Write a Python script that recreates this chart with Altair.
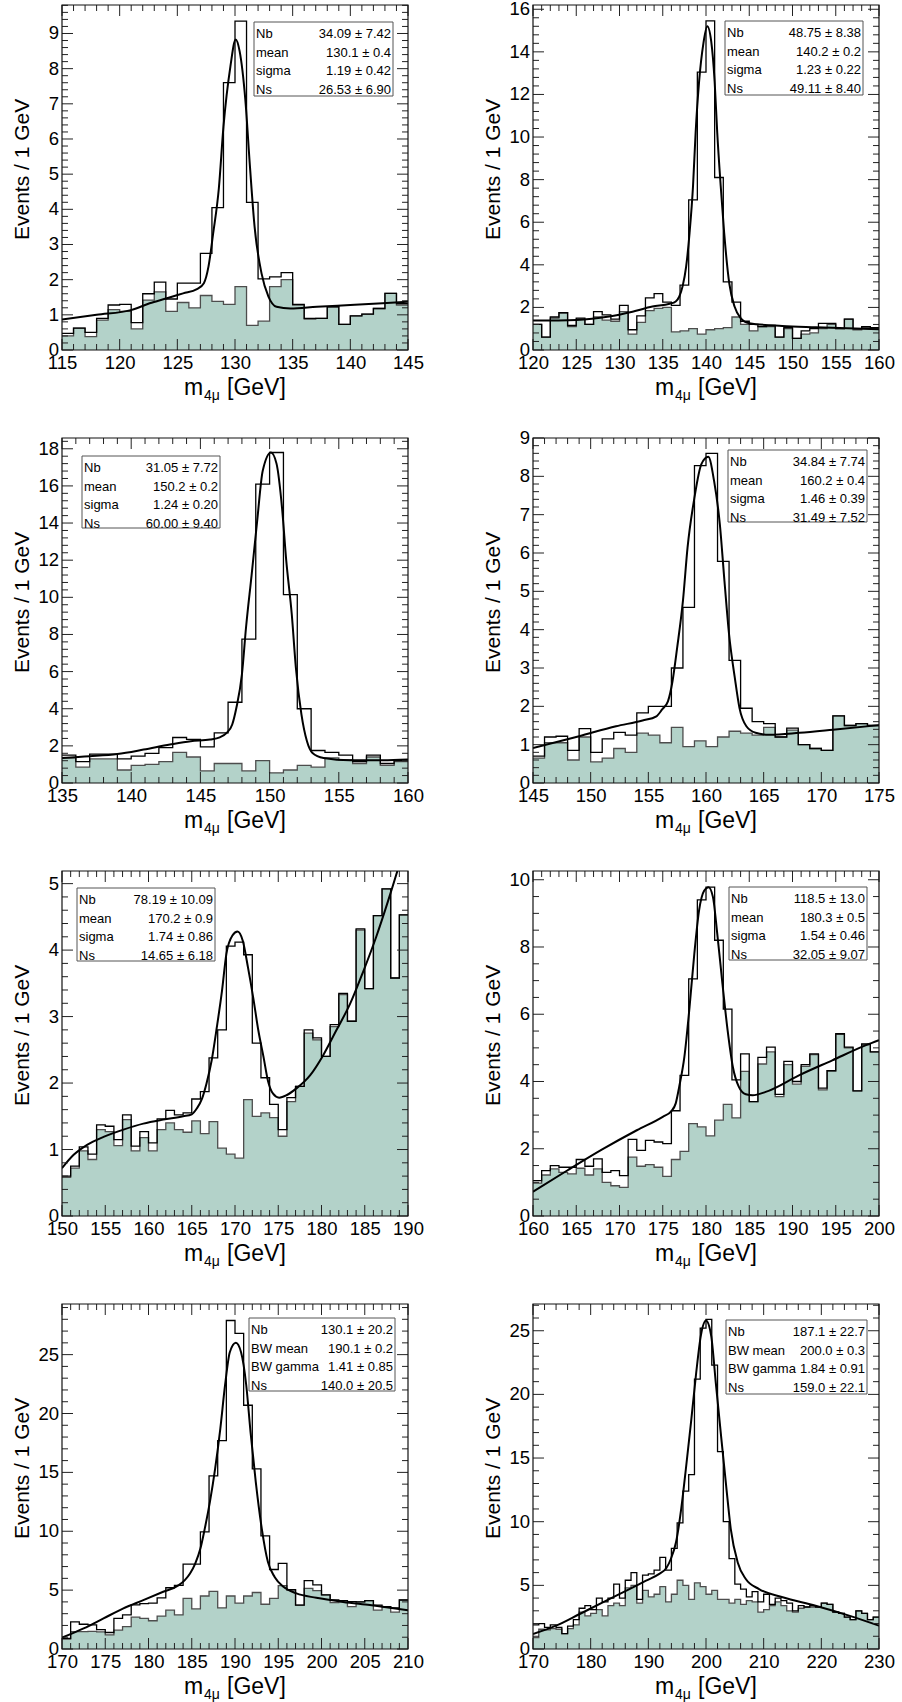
import altair as alt
import pandas as pd

W, H = 346, 345
FONT = "Liberation Sans"
FILL = "#b3d2c9"

# ---------------- data ----------------
p1_range = (115, 145)
p1_total = [0.47, 0.62, 0.5, 0.9, 1.28, 1.3, 0.78, 1.6, 1.93, 1.45, 1.9, 1.9, 2.75, 4.05, 7.6, 9.35, 4.2, 2.02, 2.08, 2.2,
            1.3, 0.9, 0.9, 1.23, 0.73, 0.97, 1.02, 1.18, 1.61, 1.32]
p1_bkg = [0.4, 0.62, 0.38, 0.85, 1.15, 1.1, 0.6, 1.42, 1.65, 1.1, 1.35, 1.2, 1.55, 1.38, 1.3, 1.8, 0.7, 0.82, 1.8, 2.0,
          1.28, 0.88, 0.9, 1.23, 0.73, 0.97, 1.02, 1.18, 1.61, 1.28]
p1_fit_x = [115, 118, 121.06, 122.6, 124.1, 125.5, 126.7, 127.3, 127.7, 128.1, 128.6, 129.0, 129.6, 130.06, 130.4, 130.9,
            131.3, 131.7, 132.3, 132.9, 133.6, 134.8, 137.1, 140, 142.8, 145]
p1_fit_y = [0.87, 1.0, 1.14, 1.33, 1.47, 1.61, 1.73, 1.9, 2.37, 3.3, 4.6, 6.35, 8.06, 8.83, 8.5, 7.1,
            5.2, 3.5, 2.18, 1.52, 1.23, 1.18, 1.23, 1.28, 1.33, 1.37]
p1_names = ["Nb", "mean", "sigma", "Ns"]
p1_vals = ["34.09 ± 7.42", "130.1 ± 0.4", "1.19 ± 0.42", "26.53 ± 6.90"]

p2_range = (120, 160)
p2_total = [1.2, 0.6, 1.55, 1.75, 1.15, 1.5, 1.2, 1.8, 1.65, 1.45, 2.1, 0.95, 1.6, 2.45, 2.65, 2.25, 2.1, 3.05, 7.05, 13.05,
            15.45, 8.1, 3.2, 2.25, 1.35, 1.2, 1.1, 1.15, 0.6, 1.05, 0.55, 0.9, 1.0, 1.25, 1.25, 1.0, 1.45, 1.0, 1.1, 1.05]
p2_bkg = [1.2, 0.6, 1.5, 1.75, 1.1, 1.45, 1.2, 1.55, 1.4, 1.35, 1.8, 0.75, 1.3, 1.85, 1.95, 2.0, 0.85, 0.9, 1.0, 0.75,
          0.95, 1.0, 1.05, 1.55, 1.2, 0.9, 1.1, 1.1, 0.6, 1.0, 0.55, 0.75, 0.8, 1.0, 1.2, 1.0, 1.45, 0.95, 1.05, 1.0]
p2_fit_x = [120, 125, 128.8, 131.5, 133.8, 135.8, 136.5, 136.9, 137.3, 137.7, 138.1, 138.5, 138.8, 139.2, 139.7, 140.15,
            140.6, 141.0, 141.3, 141.7, 142.1, 142.7, 143.3, 144.0, 145, 148.8, 152.7, 160]
p2_fit_y = [1.38, 1.41, 1.57, 1.8, 2.04, 2.17, 2.28, 2.5, 3.0, 3.9, 5.5, 7.7, 10.2, 12.6, 14.4, 15.2,
            14.5, 12.6, 10.2, 7.7, 5.5, 3.1, 2.04, 1.5, 1.26, 1.13, 1.07, 0.98]
p2_names = ["Nb", "mean", "sigma", "Ns"]
p2_vals = ["48.75 ± 8.38", "140.2 ± 0.2", "1.23 ± 0.22", "49.11 ± 8.40"]

p3_range = (135, 160)
p3_total = [1.5, 1.15, 1.55, 1.55, 1.3, 1.45, 1.6, 1.9, 2.45, 2.35, 1.95, 2.7, 4.35, 7.75, 16.1, 17.8, 10.15, 4.0, 1.75, 1.65,
            1.5, 1.15, 1.5, 1.05, 1.2]
p3_bkg = [1.35, 0.85, 1.3, 1.3, 0.7, 0.95, 1.0, 1.15, 1.65, 1.4, 0.65, 1.05, 1.05, 0.65, 1.2, 0.55, 0.7, 0.95, 0.85, 1.35,
          1.25, 1.05, 1.4, 0.95, 1.15]
p3_fit_x = [135, 137.0, 139.0, 140.9, 142.8, 144.3, 145.7, 146.4, 146.9, 147.3, 147.6, 148.0, 148.3, 148.7, 149.1, 149.5,
            150.1, 150.5, 150.9, 151.2, 151.6, 151.9, 152.3, 152.7, 153.1, 153.9, 155.8, 158.2, 160]
p3_fit_y = [1.35, 1.44, 1.56, 1.8, 2.07, 2.25, 2.34, 2.46, 2.7, 3.15, 4.05, 5.85, 8.4, 11.2, 14.1, 16.8,
            17.8, 17.2, 14.8, 12.0, 9.1, 6.2, 3.7, 2.25, 1.62, 1.35, 1.22, 1.22, 1.26]
p3_names = ["Nb", "mean", "sigma", "Ns"]
p3_vals = ["31.05 ± 7.72", "150.2 ± 0.2", "1.24 ± 0.20", "60.00 ± 9.40"]

p4_range = (145, 175)
p4_total = [0.7, 1.2, 1.22, 0.85, 1.42, 0.8, 1.15, 1.32, 1.25, 1.83, 2.0, 2.0, 3.0, 4.58, 8.28, 8.6, 5.78, 3.2, 1.95, 1.6,
            1.55, 1.2, 1.43, 1.0, 0.9, 0.85, 1.75, 1.5, 1.55, 1.5]
p4_bkg = [0.65, 1.05, 1.05, 0.6, 1.2, 0.55, 0.65, 0.9, 0.8, 1.3, 1.25, 1.05, 1.45, 0.95, 1.1, 0.95, 1.2, 1.35, 1.3, 1.25,
          1.45, 1.2, 1.38, 1.0, 0.9, 0.85, 1.75, 1.5, 1.55, 1.5]
p4_fit_x = [145, 149.0, 152.2, 154.5, 155.7, 156.2, 156.7, 157.1, 157.5, 158.0, 158.4, 159.0, 159.6, 160.2, 160.7, 161.2,
            161.6, 162.0, 162.5, 162.9, 163.5, 164.3, 165.5, 168.1, 171.0, 175]
p4_fit_y = [0.91, 1.22, 1.48, 1.63, 1.74, 1.92, 2.13, 2.66, 3.53, 4.75, 6.14, 7.45, 8.32, 8.51, 7.88, 6.75,
            5.27, 3.88, 2.74, 1.96, 1.48, 1.31, 1.26, 1.31, 1.39, 1.51]
p4_names = ["Nb", "mean", "sigma", "Ns"]
p4_vals = ["34.84 ± 7.74", "160.2 ± 0.4", "1.46 ± 0.39", "31.49 ± 7.52"]

p5_range = (150, 190)
p5_total = [0.6, 0.75, 1.04, 0.93, 1.37, 1.35, 1.15, 1.52, 1.05, 1.27, 1.1, 1.46, 1.59, 1.52, 1.55, 1.76, 1.87, 2.38, 2.8, 4.06,
            4.12, 3.93, 2.6, 2.08, 1.68, 1.3, 1.78, 1.95, 2.8, 2.68, 2.4, 2.88, 3.35, 2.93, 4.32, 3.42, 4.52, 4.92, 3.58, 4.53]
p5_bkg = [0.58, 0.72, 0.98, 0.85, 1.3, 1.27, 1.06, 1.45, 0.98, 1.18, 0.98, 1.3, 1.4, 1.3, 1.26, 1.43, 1.24, 1.42, 1.02, 0.93,
          0.87, 1.75, 1.5, 1.55, 1.48, 1.2, 1.72, 1.95, 2.75, 2.65, 2.4, 2.85, 3.33, 2.93, 4.3, 3.42, 4.52, 4.92, 3.58, 4.53]
p5_fit_x = [150, 151.35, 152.9, 154.8, 157.1, 159.4, 161.7, 164.0, 165.0, 165.6, 166.2, 166.7, 167.3, 167.9, 168.5, 169.0,
            169.7, 170.3, 170.9, 171.5, 172.1, 172.7, 173.3, 173.8, 174.4, 175.1, 176.0, 177.1, 178.7, 180.2, 181.7,
            183.3, 184.8, 186.3, 187.7, 189.0, 190]
p5_fit_y = [0.72, 0.92, 1.07, 1.19, 1.3, 1.39, 1.45, 1.5, 1.53, 1.62, 1.77, 1.99, 2.34, 2.84, 3.39, 3.94,
            4.22, 4.28, 4.14, 3.74, 3.29, 2.79, 2.39, 2.04, 1.84, 1.78, 1.82, 1.92, 2.12, 2.42, 2.79,
            3.19, 3.67, 4.19, 4.74, 5.29, 5.74]
p5_names = ["Nb", "mean", "sigma", "Ns"]
p5_vals = ["78.19 ± 10.09", "170.2 ± 0.9", "1.74 ± 0.86", "14.65 ± 6.18"]

p6_range = (160, 200)
p6_total = [1.05, 1.35, 1.5, 1.45, 1.45, 1.68, 1.48, 1.7, 1.3, 1.35, 1.2, 2.28, 1.95, 2.25, 2.2, 2.15, 3.13, 4.18, 7.05, 9.4,
            9.78, 8.2, 6.15, 4.05, 4.82, 3.4, 4.72, 5.02, 3.62, 4.6, 4.0, 4.5, 4.82, 3.8, 4.32, 5.42, 5.02, 3.72, 5.12, 4.88]
p6_bkg = [0.98, 1.22, 1.4, 1.3, 1.25, 1.42, 1.22, 1.4, 1.0, 0.9, 0.85, 1.75, 1.48, 1.53, 1.45, 1.18, 1.68, 1.92, 2.75, 2.65,
          2.38, 2.85, 3.32, 2.92, 4.3, 3.4, 4.52, 4.88, 3.55, 4.5, 3.92, 4.45, 4.8, 3.75, 4.32, 5.4, 5.0, 3.72, 5.1, 4.88]
p6_fit_x = [160, 164.0, 168.0, 172.0, 175.0, 176.0, 176.5, 176.9, 177.5, 178.1, 178.65, 179.2, 179.8, 180.3,
            180.8, 181.3, 181.9, 182.5, 183.1, 183.8, 184.6, 185.4, 186.9, 190.8, 194.6, 198.5, 200]
p6_fit_y = [0.72, 1.36, 1.98, 2.55, 2.95, 3.12, 3.35, 3.84, 4.73, 6.22, 7.8, 9.09, 9.68, 9.78,
            9.49, 8.4, 6.91, 5.52, 4.44, 3.84, 3.62, 3.59, 3.69, 4.19, 4.63, 5.08, 5.23]
p6_names = ["Nb", "mean", "sigma", "Ns"]
p6_vals = ["118.5 ± 13.0", "180.3 ± 0.5", "1.54 ± 0.46", "32.05 ± 9.07"]

p7_range = (170, 210)
p7_total = [0.9, 2.3, 2.1, 2.05, 1.65, 1.4, 2.6, 2.9, 3.75, 3.85, 3.9, 4.35, 5.2, 5.4, 7.2, 7.2, 9.95, 14.7, 17.7, 27.9,
            26.8, 20.7, 15.3, 9.6, 6.75, 7.28, 5.05, 3.73, 5.8, 5.44, 4.59, 4.16, 4.1, 4.03, 4.0, 4.1, 3.73, 3.6, 3.5, 4.16]
p7_bkg = [0.85, 1.47, 1.47, 1.5, 1.45, 1.2, 1.6, 1.9, 2.7, 2.6, 2.4, 2.8, 3.3, 2.9, 4.3, 3.4, 4.5, 4.9, 3.5, 4.5,
          3.9, 4.5, 4.8, 3.8, 4.3, 5.38, 5.0, 3.73, 5.15, 4.95, 4.59, 3.94, 4.0, 3.6, 4.0, 4.1, 3.3, 3.6, 3.13, 4.16]
p7_fit_x = [170, 172.5, 174.8, 177.1, 179.4, 181.7, 183.5, 184.2, 184.8, 185.4, 186.0, 186.5, 187.1, 187.7, 188.3,
            188.85, 189.4, 190.1, 190.7, 191.3, 191.8, 192.4, 193.1, 193.8, 194.6, 195.6, 197.1, 199.4, 202.5, 205.6, 210]
p7_fit_y = [0.96, 1.75, 2.6, 3.45, 4.15, 4.86, 5.42, 5.85, 6.41, 7.26, 8.53, 10.2, 12.5, 15.3, 18.7,
            22.4, 25.2, 26.0, 25.2, 22.4, 18.4, 14.2, 10.2, 7.4, 6.1, 5.28, 4.72, 4.35, 4.0, 3.73, 3.3]
p7_names = ["Nb", "BW mean", "BW gamma", "Ns"]
p7_vals = ["130.1 ± 20.2", "190.1 ± 0.2", "1.41 ± 0.85", "140.0 ± 20.5"]

p8_range = (170, 230)
p8_total = [1.9, 2.0, 1.7, 1.9, 1.7, 1.2, 1.8, 2.3, 3.2, 3.4, 3.1, 4.0, 3.7, 4.0, 5.1, 4.0, 5.4, 6.0, 3.9, 5.8,
            5.9, 6.2, 7.2, 6.2, 7.9, 9.9, 12.4, 13.7, 21.2, 25.2, 25.9, 22.3, 15.5, 10.0, 7.1, 5.1, 4.7, 4.1, 4.5, 3.7,
            4.3, 3.5, 4.0, 3.8, 3.6, 3.0, 3.4, 3.3, 3.4, 3.3, 3.6, 3.5, 2.9, 2.8, 2.5, 2.3, 3.0, 2.8, 2.3, 2.5]
p8_bkg = [0.9, 1.55, 1.5, 1.6, 1.55, 1.2, 1.6, 1.9, 2.9, 2.6, 2.8, 3.1, 2.6, 3.4, 3.6, 3.4, 4.8, 5.0, 3.6, 4.6,
          4.1, 4.3, 4.9, 3.7, 4.3, 5.4, 5.0, 3.9, 5.2, 4.9, 4.3, 4.6, 3.9, 3.9, 3.6, 3.9, 3.5, 3.8, 3.7, 2.9,
          3.1, 3.4, 3.7, 3.4, 3.0, 2.9, 3.2, 3.3, 3.3, 3.3, 3.6, 3.5, 2.9, 2.8, 2.5, 2.3, 3.0, 2.8, 2.3, 2.5]
p8_fit_x = [170, 174.0, 178.1, 182.1, 186.2, 189.6, 191.9, 193.1, 193.9, 194.8, 195.7, 196.5, 197.4, 198.3, 199.1,
            200.0, 200.9, 201.7, 202.6, 203.5, 204.3, 205.5, 206.9, 209.2, 213.3, 219.0, 224.8, 230]
p8_fit_y = [1.18, 1.83, 2.75, 3.66, 4.58, 5.37, 5.9, 6.34, 7.07, 8.38, 11.0, 14.1, 17.8, 21.7, 24.6,
            25.8, 24.6, 20.9, 16.8, 12.8, 9.42, 6.8, 5.5, 4.71, 4.06, 3.4, 2.62, 1.83]
p8_names = ["Nb", "BW mean", "BW gamma", "Ns"]
p8_vals = ["187.1 ± 22.7", "200.0 ± 0.3", "1.84 ± 0.91", "159.0 ± 22.1"]

# ---------------- panel layout settings (axes / box placement) ----------------
panels = [
    dict(rng=p1_range, tot=p1_total, bkg=p1_bkg, fx=p1_fit_x, fy=p1_fit_y, names=p1_names, vals=p1_vals,
         ymax=9.81, ymaj=1, ymin=0.2, xmaj=5, xmin=1, box=(192, 331, 17, 91)),
    dict(rng=p2_range, tot=p2_total, bkg=p2_bkg, fx=p2_fit_x, fy=p2_fit_y, names=p2_names, vals=p2_vals,
         ymax=16.2, ymaj=2, ymin=0.4, xmaj=5, xmin=1, box=(192, 330, 16, 90)),
    dict(rng=p3_range, tot=p3_total, bkg=p3_bkg, fx=p3_fit_x, fy=p3_fit_y, names=p3_names, vals=p3_vals,
         ymax=18.58, ymaj=2, ymin=0.4, xmaj=5, xmin=1, box=(20, 158, 18, 90)),
    dict(rng=p4_range, tot=p4_total, bkg=p4_bkg, fx=p4_fit_x, fy=p4_fit_y, names=p4_names, vals=p4_vals,
         ymax=9.0, ymaj=1, ymin=0.2, xmaj=5, xmin=1, box=(195, 334, 12, 84)),
    dict(rng=p5_range, tot=p5_total, bkg=p5_bkg, fx=p5_fit_x, fy=p5_fit_y, names=p5_names, vals=p5_vals,
         ymax=5.19, ymaj=1, ymin=0.2, xmaj=5, xmin=1, box=(15, 153, 17, 90)),
    dict(rng=p6_range, tot=p6_total, bkg=p6_bkg, fx=p6_fit_x, fy=p6_fit_y, names=p6_names, vals=p6_vals,
         ymax=10.26, ymaj=2, ymin=0.5, xmaj=5, xmin=1, box=(196, 334, 16, 89)),
    dict(rng=p7_range, tot=p7_total, bkg=p7_bkg, fx=p7_fit_x, fy=p7_fit_y, names=p7_names, vals=p7_vals,
         ymax=29.3, ymaj=5, ymin=1, xmaj=5, xmin=1, box=(187, 333, 14, 87)),
    dict(rng=p8_range, tot=p8_total, bkg=p8_bkg, fx=p8_fit_x, fy=p8_fit_y, names=p8_names, vals=p8_vals,
         ymax=27.1, ymaj=5, ymin=1, xmaj=10, xmin=2, box=(193, 334, 16, 90)),
]

ONE = pd.DataFrame({"a": [0]})
MAJ, MINL = 11, 6


def steps(lo, hi, step):
    n = int(round((hi - lo) / step))
    out = []
    for k in range(n + 1):
        v = round(lo + k * step, 6)
        if v <= hi + 1e-9:
            out.append(v)
    return out


def make_panel(p):
    lo, hi = p["rng"]
    tot, bkg = p["tot"], p["bkg"]
    n = len(tot)
    bw = (hi - lo) / n
    hist = pd.DataFrame({
        "x": [lo + i * bw for i in range(n + 1)],
        "tot": tot + [tot[-1]],
        "bkg": bkg + [bkg[-1]],
    })
    fit = pd.DataFrame({"x": p["fx"], "y": p["fy"]})
    xs = alt.Scale(domain=[lo, hi], nice=False, zero=False)
    ys = alt.Scale(domain=[0, p["ymax"]], nice=False, zero=True)

    xmajor = steps(lo, hi, p["xmaj"])
    xminor = [v for v in steps(lo, hi, p["xmin"]) if v not in xmajor]
    ymajor = steps(0, p["ymax"], p["ymaj"])
    yminor = [v for v in steps(0, p["ymax"], p["ymin"]) if v not in ymajor]

    xaxis = alt.Axis(values=xmajor, format="d", labelFontSize=18.5, labelFont=FONT, labelColor="#000",
                     labelPadding=3, ticks=False, tickSize=0, domain=False, grid=False, title=None,
                     labelFlush=False, labelOverlap=False)
    yaxis = alt.Axis(values=ymajor, labels=False, ticks=False, tickSize=0, domain=False, grid=False,
                     title="Events / 1 GeV", titleFont=FONT, titleFontSize=21,
                     titleFontWeight="normal", titleColor="#000", titleAngle=270, titleX=-34,
                     titleY=H * 0.475, titleBaseline="alphabetic", titleAlign="center")

    layers = []
    layers.append(alt.Chart(hist).mark_area(interpolate="step-after", color=FILL).encode(
        x=alt.X("x:Q", scale=xs, axis=xaxis), y=alt.Y("bkg:Q", scale=ys, axis=yaxis)))
    layers.append(alt.Chart(hist).mark_line(interpolate="step-after", color="#4d4d4d", strokeWidth=1.3).encode(
        x="x:Q", y="bkg:Q"))
    layers.append(alt.Chart(hist).mark_line(interpolate="step-after", color="#000", strokeWidth=1.3).encode(
        x="x:Q", y="tot:Q"))
    layers.append(alt.Chart(fit).mark_line(interpolate="monotone", color="#000", strokeWidth=2, clip=True).encode(
        x="x:Q", y="y:Q"))

    # y tick labels
    ylab = pd.DataFrame({"y": ymajor, "t": [str(int(round(v))) for v in ymajor]})
    layers.append(alt.Chart(ylab).mark_text(align="right", baseline="middle", font=FONT, fontSize=18.5,
                                            color="#000").encode(
        y="y:Q", x=alt.value(-3), text="t:N"))

    # inward ticks on all four sides
    for vals, L in ((xmajor, MAJ), (xminor, MINL)):
        d = pd.DataFrame({"x": vals})
        layers.append(alt.Chart(d).mark_rule(color="#222", strokeWidth=1).encode(
            x="x:Q", y=alt.value(H), y2=alt.value(H - L)))
        layers.append(alt.Chart(d).mark_rule(color="#222", strokeWidth=1).encode(
            x="x:Q", y=alt.value(0), y2=alt.value(L)))
    for vals, L in ((ymajor, MAJ), (yminor, MINL)):
        d = pd.DataFrame({"y": vals})
        layers.append(alt.Chart(d).mark_rule(color="#222", strokeWidth=1).encode(
            y="y:Q", x=alt.value(0), x2=alt.value(L)))
        layers.append(alt.Chart(d).mark_rule(color="#222", strokeWidth=1).encode(
            y="y:Q", x=alt.value(W), x2=alt.value(W - L)))

    # frame
    layers.append(alt.Chart(ONE).mark_rect(filled=False, stroke="#111", strokeWidth=1.2).encode(
        x=alt.value(0), x2=alt.value(W), y=alt.value(0), y2=alt.value(H)))

    # stats box
    bx0, bx1, by0, by1 = p["box"]
    layers.append(alt.Chart(ONE).mark_rect(fill="white", stroke="#555", strokeWidth=1).encode(
        x=alt.value(bx0), x2=alt.value(bx1), y=alt.value(by0), y2=alt.value(by1)))
    layers.append(alt.Chart(ONE).mark_text(align="left", baseline="top", font=FONT, fontSize=13,
                                           lineHeight=18.5, color="#000").encode(
        x=alt.value(bx0 + 2), y=alt.value(by0 + 6), text=alt.value(p["names"])))
    layers.append(alt.Chart(ONE).mark_text(align="right", baseline="top", font=FONT, fontSize=13,
                                           lineHeight=18.5, color="#000").encode(
        x=alt.value(bx1 - 2), y=alt.value(by0 + 6), text=alt.value(p["vals"])))

    # x title with subscript
    layers.append(alt.Chart(ONE).mark_text(align="left", baseline="alphabetic", font=FONT, fontSize=23,
                                           color="#000").encode(
        x=alt.value(W / 2 - 51), y=alt.value(H + 45), text=alt.value("m")))
    layers.append(alt.Chart(ONE).mark_text(align="left", baseline="alphabetic", font=FONT, fontSize=14,
                                           color="#000").encode(
        x=alt.value(W / 2 - 31), y=alt.value(H + 50), text=alt.value("4μ")))
    layers.append(alt.Chart(ONE).mark_text(align="left", baseline="alphabetic", font=FONT, fontSize=23,
                                           color="#000").encode(
        x=alt.value(W / 2 - 8), y=alt.value(H + 45), text=alt.value("[GeV]")))

    return alt.layer(*layers).properties(width=W, height=H)


charts = [make_panel(p) for p in panels]
chart = alt.concat(*charts, columns=2, spacing={"row": 88, "column": 125}, bounds="flush").properties(
    padding={"left": 11, "top": 0, "right": 4, "bottom": 2},
    background="white",
).configure_view(stroke=None).configure_axis(labelOverlap=False)

chart.save("out.html", embed_options={"renderer": "svg", "actions": False})
